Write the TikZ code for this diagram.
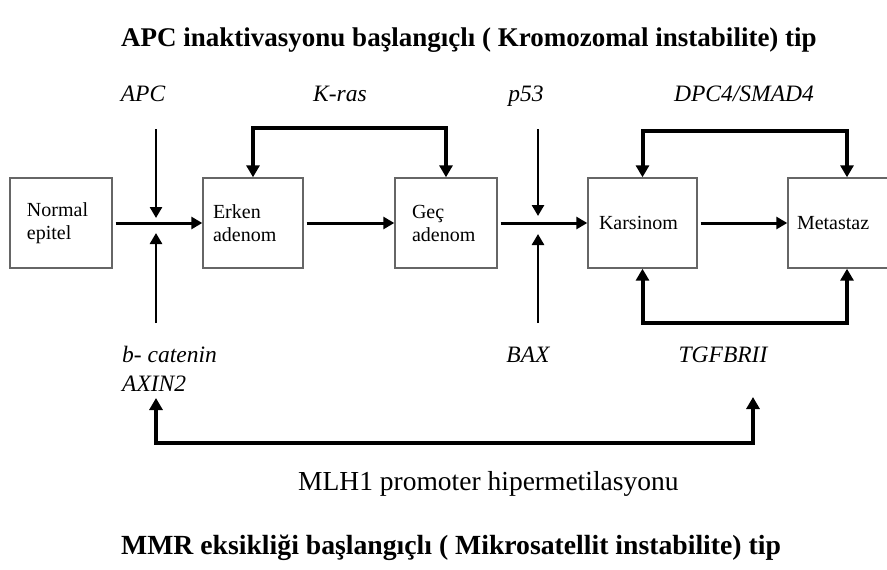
\documentclass[tikz,border=0pt]{standalone}
\usepackage{fontspec}
\setmainfont{Liberation Serif}
\usetikzlibrary{arrows.meta}
\begin{document}
\begin{tikzpicture}[x=1pt,y=-1pt,
  box/.style={draw=black!60, line width=1.4pt, minimum height=90pt, align=left,
    font=\fontsize{20}{23}\selectfont, inner ysep=0pt},
  flow/.style={line width=3pt, -{Triangle[width=12pt,length=11pt]}},
  vin/.style={line width=2.6pt, -{Triangle[width=12pt,length=11pt]}},
  loopline/.style={line width=4pt, line join=miter,
    {Triangle[width=13pt,length=12pt]}-{Triangle[width=13pt,length=12pt]}},
  gene/.style={font=\fontsize{23.5}{28}\selectfont\itshape, inner sep=0pt, anchor=base},
  heading/.style={font=\bfseries, inner sep=0pt, anchor=west}]
\useasboundingbox (0,0) rectangle (887,570);
\clip (0,0) rectangle (887,570);

% titles
\node[heading, font=\fontsize{27}{32}\selectfont\bfseries] (t1) at (121,40) {APC inaktivasyonu başlangıçlı ( Kromozomal instabilite) tip};
\node[heading, font=\fontsize{27.7}{32}\selectfont\bfseries] (t2) at (121,548) {MMR eksikliği başlangıçlı ( Mikrosatellit instabilite) tip};

% boxes
\node[box, minimum width=102pt, text width=68pt, inner xsep=17pt] (normal) at (61,223) {Normal\\epitel};
\node[box, minimum width=100pt, text width=80pt, inner xsep=10pt] (erken) at (253,223) {Erken\\adenom};
\node[box, minimum width=102pt, text width=68pt, inner xsep=17pt] (gec) at (446,223) {Geç\\adenom};
\node[box, minimum width=109pt, text width=87pt, inner xsep=11pt] (kars) at (642.5,223) {Karsinom};
\node[box, minimum width=118pt, text width=100pt, inner xsep=9pt] (meta) at (847,223) {Metastaz};

% main flow
\draw[flow] ([xshift=3pt]normal.east) -- (erken.west);
\draw[flow] ([xshift=3pt]erken.east) -- (gec.west);
\draw[flow] ([xshift=3pt]gec.east) -- (kars.west);
\draw[flow] ([xshift=3pt]kars.east) -- (meta.west);

% gene labels
\node[gene] (apc) at (143,101) {APC};
\node[gene] (kras) at (340,101) {K-ras};
\node[gene] (p53) at (526,101) {p53};
\node[gene] (dpc) at (744,101) {DPC4/SMAD4};
\node[gene, anchor=base west] (bcat) at (122,362) {b- catenin};
\node[gene, anchor=base west] (axin) at (122,391) {AXIN2};
\node[gene] (bax) at (528,362) {BAX};
\node[gene] (tgf) at (723,362) {TGFBRII};
\node[font=\fontsize{27.5}{32}\selectfont, anchor=west, inner sep=0pt] (mlh) at (298,484) {MLH1 promoter hipermetilasyonu};

% vertical inputs
\coordinate (apcA) at (156,129);
\coordinate (apcB) at (156,218);
\coordinate (apcC) at (156,323);
\coordinate (apcD) at (156,233);
\coordinate (p53A) at (538,129);
\coordinate (p53B) at (538,216);
\coordinate (p53C) at (538,323);
\coordinate (p53D) at (538,234);
\draw[vin] (apcA) -- (apcB);
\draw[vin] (apcC) -- (apcD);
\draw[vin] (p53A) -- (p53B);
\draw[vin] (p53C) -- (p53D);

% loops
\coordinate (krasTop) at (350,128);
\coordinate (dpcTop) at (745,131);
\coordinate (tgfBot) at (745,323);
\draw[loopline] (erken.north) |- (krasTop) -| (gec.north);
\draw[loopline] (kars.north) |- (dpcTop) -| (meta.north);
\draw[loopline] (kars.south) |- (tgfBot) -| (meta.south);

% MLH1 bracket
\coordinate (axTip) at (156,398);
\coordinate (tgTip) at (753,397);
\coordinate (brMid) at (450,443);
\draw[loopline] (axTip) |- (brMid) -| (tgTip);
\end{tikzpicture}
\end{document}
